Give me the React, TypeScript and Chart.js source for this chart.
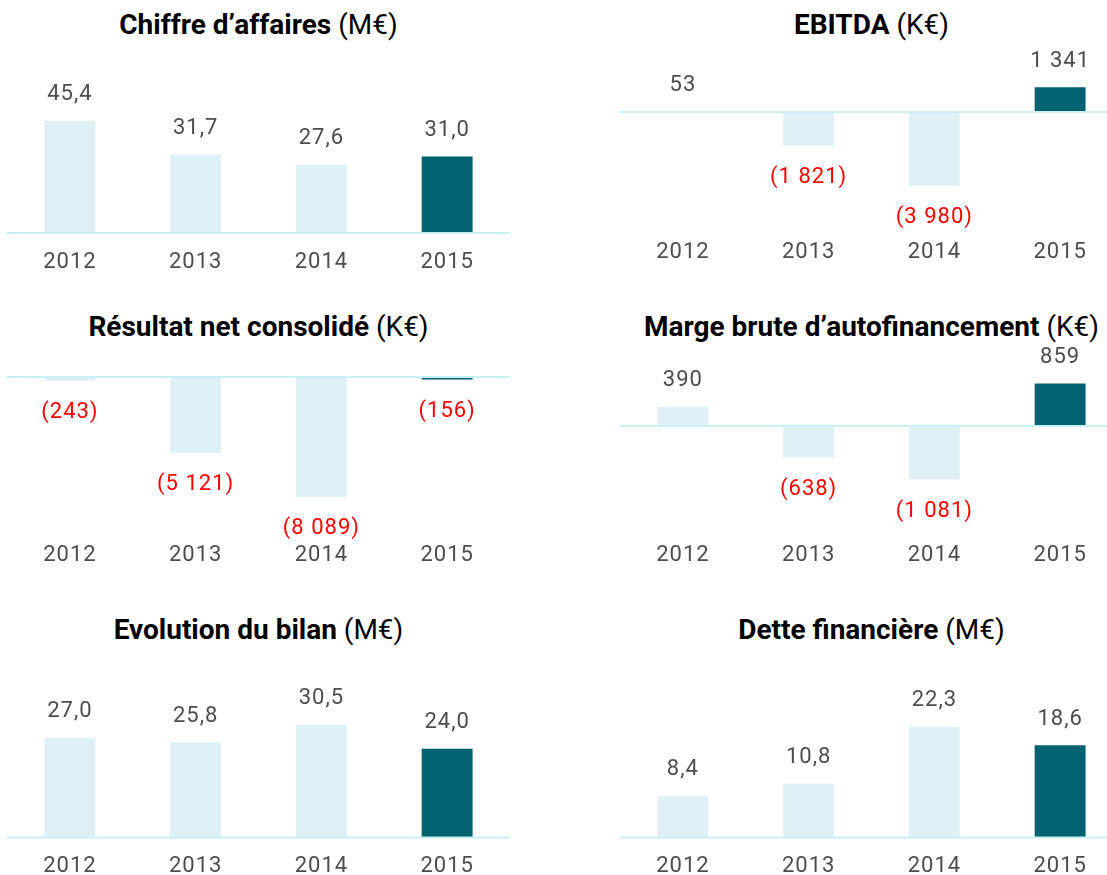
import React, { useEffect, useRef } from 'react';
import { Chart, registerables } from 'chart.js';

Chart.register(...registerables);

// ---------- data ----------
const years = ['2012', '2013', '2014', '2015'];
const chiffreAffaires = [45.4, 31.7, 27.6, 31.0];
const ebitda = [53, -1821, -3980, 1341];
const resultatNet = [-243, -5121, -8089, -156];
const margeBrute = [390, -638, -1081, 859];
const bilan = [27.0, 25.8, 30.5, 24.0];
const detteFinanciere = [8.4, 10.8, 22.3, 18.6];

// ---------- styles ----------
const LIGHT = '#e0f1f5';
const DARK = '#03626f';
const ZERO_LINE = '#c8f0f7';
const TEXT_GRAY = '#4d4d4d';
const NEG_RED = '#ff0000';
const FONT = 'Roboto';

type PanelCfg = {
  title: string;
  unit: string;
  values: number[];
  decimals: number;
  left: number;
  top: number;
  height: number;
  titleTop: number;
  yMin: number;
  yMax: number;
  tickPad: number;
};

const panels: PanelCfg[] = [
  { title: 'Chiffre d’affaires', unit: '(M€)', values: chiffreAffaires, decimals: 1, left: 7, top: 45, height: 247, titleTop: 11, yMin: 0, yMax: 76.1, tickPad: 16.3 },
  { title: 'EBITDA', unit: '(K€)', values: ebitda, decimals: 0, left: 620, top: 45, height: 227, titleTop: 11, yMin: -6540, yMax: 3622, tickPad: 6.3 },
  { title: 'Résultat net consolidé', unit: '(K€)', values: resultatNet, decimals: 0, left: 7, top: 345, height: 235, titleTop: 313, yMin: -10345, yMax: 2164, tickPad: 11.6 },
  { title: 'Marge brute d’autofinancement', unit: '(K€)', values: margeBrute, decimals: 0, left: 620, top: 345, height: 236, titleTop: 313, yMin: -2101, yMax: 1636, tickPad: 12.3 },
  { title: 'Evolution du bilan', unit: '(M€)', values: bilan, decimals: 1, left: 7, top: 650, height: 246, titleTop: 616, yMin: 0, yMax: 50.8, tickPad: 16.1 },
  { title: 'Dette financière', unit: '(M€)', values: detteFinanciere, decimals: 1, left: 620, top: 650, height: 246, titleTop: 616, yMin: 0, yMax: 37.8, tickPad: 16.1 },
];

const WIDTH = 503;

function fmt(v: number, decimals: number): string {
  const abs = Math.abs(v);
  const [intPart, decPart] = abs.toFixed(decimals).split('.');
  const grouped = intPart.replace(/\B(?=(\d{3})+(?!\d))/g, ' ');
  const s = decPart ? grouped + ',' + decPart : grouped;
  return v < 0 ? '(' + s + ')' : s;
}

const spacingPlugin = {
  id: 'letterSpacing',
  beforeDraw(chart: any) {
    (chart.ctx as any).letterSpacing = '1px';
  },
};

const zeroLinePlugin = {
  id: 'zeroLine',
  afterDatasetsDraw(chart: any) {
    const { ctx, chartArea, scales } = chart;
    const y = scales.y.getPixelForValue(0);
    ctx.save();
    ctx.strokeStyle = ZERO_LINE;
    ctx.lineWidth = 2;
    ctx.beginPath();
    ctx.moveTo(chartArea.left, y);
    ctx.lineTo(chartArea.right, y);
    ctx.stroke();
    ctx.restore();
  },
};

const valueLabelPlugin = {
  id: 'valueLabels',
  afterDatasetsDraw(chart: any, _args: any, opts: any) {
    const { ctx } = chart;
    const meta = chart.getDatasetMeta(0);
    const data = chart.data.datasets[0].data as number[];
    ctx.save();
    (ctx as any).letterSpacing = '1px';
    ctx.font = `22px ${FONT}`;
    ctx.textAlign = 'center';
    ctx.textBaseline = 'middle';
    meta.data.forEach((el: any, i: number) => {
      const v = data[i];
      const y = v >= 0 ? el.y - 26 : el.y + 32;
      ctx.fillStyle = v < 0 ? NEG_RED : TEXT_GRAY;
      ctx.fillText(fmt(v, opts.decimals), el.x, y);
    });
    ctx.restore();
  },
};

function Panel({ cfg }: { cfg: PanelCfg }) {
  const ref = useRef<HTMLCanvasElement | null>(null);
  useEffect(() => {
    if (!ref.current) return;
    const last = cfg.values.length - 1;
    const chart = new Chart(ref.current, {
      type: 'bar',
      data: {
        labels: years,
        datasets: [
          {
            data: cfg.values,
            backgroundColor: cfg.values.map((_, i) => (i === last ? DARK : LIGHT)),
            borderWidth: 0,
            barPercentage: 0.405,
            categoryPercentage: 1,
          },
        ],
      },
      options: {
        responsive: false,
        animation: false,
        devicePixelRatio: 1,
        layout: { padding: 0 },
        plugins: {
          legend: { display: false },
          tooltip: { enabled: false },
          title: { display: false },
          valueLabels: { decimals: cfg.decimals },
        } as any,
        scales: {
          x: {
            position: 'bottom',
            grid: { display: false, drawTicks: false },
            border: { display: false },
            ticks: {
              color: TEXT_GRAY,
              font: { family: FONT, size: 22 },
              padding: cfg.tickPad,
              maxRotation: 0,
              autoSkip: false,
            },
          },
          y: {
            display: false,
            min: cfg.yMin,
            max: cfg.yMax,
          },
        },
      },
      plugins: [spacingPlugin, zeroLinePlugin, valueLabelPlugin],
    });
    return () => chart.destroy();
  }, [cfg]);
  return (
    <canvas
      ref={ref}
      width={WIDTH}
      height={cfg.height}
      style={{ position: 'absolute', left: cfg.left, top: cfg.top, width: WIDTH, height: cfg.height }}
    />
  );
}

export default function App() {
  return (
    <div
      style={{
        position: 'absolute',
        left: 0,
        top: 0,
        width: 1107,
        height: 875,
        overflow: 'hidden',
        background: '#ffffff',
        fontFamily: FONT,
      }}
    >
      {panels.map((p, i) => (
        <React.Fragment key={i}>
          <div
            style={{
              position: 'absolute',
              left: p.left,
              top: p.titleTop,
              width: WIDTH,
              textAlign: 'center',
              fontSize: 28,
              lineHeight: '28px',
              color: '#000',
              whiteSpace: 'nowrap',
              fontFamily: FONT,
            }}
          >
            <span style={{ fontWeight: 700 }}>{p.title}</span>{' '}
            <span style={{ fontWeight: 400 }}>{p.unit}</span>
          </div>
          <Panel cfg={p} />
        </React.Fragment>
      ))}
    </div>
  );
}
